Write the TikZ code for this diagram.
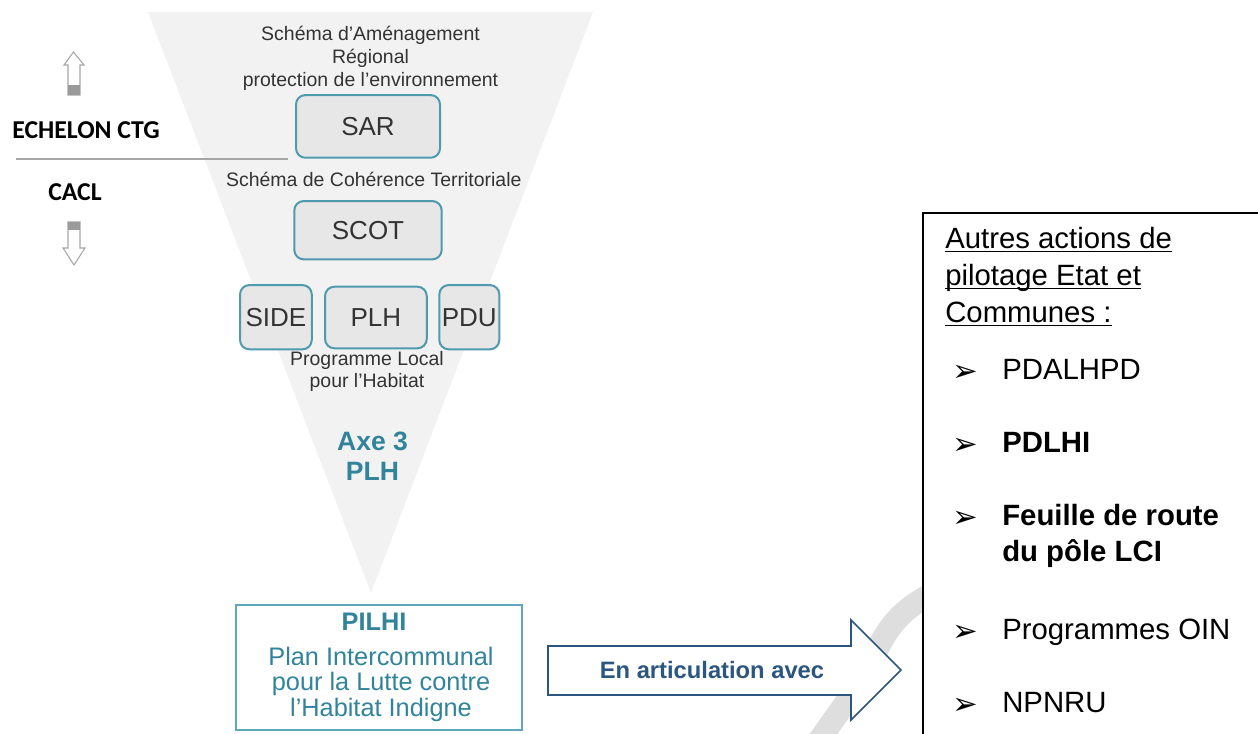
\documentclass[tikz,border=0pt]{standalone}
\usepackage{fontspec}
\setmainfont{Liberation Sans}
\newfontfamily\calibrifont{Carlito}
\newfontfamily\dejavufont{DejaVu Sans}
\definecolor{trigray}{HTML}{F2F2F2}
\definecolor{boxfill}{HTML}{E7E7E7}
\definecolor{boxteal}{HTML}{4E9AAE}
\definecolor{axeteal}{HTML}{31849B}
\definecolor{pilteal}{HTML}{5FA8BB}
\definecolor{txtdark}{HTML}{333333}
\definecolor{arrowblue}{HTML}{2A5680}
\definecolor{wmgray}{HTML}{DEDEDE}
\definecolor{sidegray}{HTML}{A6A6A6}
\definecolor{sidedark}{HTML}{9A9A9A}
\newcommand{\ulx}[1]{\setbox0\hbox{#1}\rlap{\rule[-3pt]{\wd0}{1pt}}\box0}
\begin{document}
\begin{tikzpicture}[x=0.75pt,y=-0.75pt,
  smalllbl/.style={font=\fontsize{14.6}{17.5}\selectfont, text=txtdark, inner sep=0pt, align=center, anchor=base},
  tealbox/.style={draw=boxteal, line width=1.5pt, fill=boxfill, rounded corners=7pt, inner sep=0pt,
    font=\fontsize{19.5}{22}\selectfont, text=txtdark},
  sidelbl/.style={font=\calibrifont\bfseries\fontsize{19.3}{23}\selectfont, text=black, inner sep=0pt, anchor=base},
  sidearrow/.style={draw=sidegray, line width=0.8pt, fill=white, line join=miter},
  rtext/.style={font=\fontsize{22}{27.75}\selectfont, text=black, inner sep=0pt, anchor=base west, align=left},
  rbullet/.style={font=\dejavufont\fontsize{23}{26}\selectfont, text=black, inner sep=0pt, anchor=base west},
  ]
\useasboundingbox (0,0) rectangle (1258,733);
\clip (0,0) rectangle (1258,733);

% funnel
\fill[trigray] (148,12) -- (593,12) -- (371,593) -- cycle;

% left: levels
\draw[sidearrow] (68,95) -- (68,65) -- (64,65) -- (73.5,52) -- (84,65) -- (80,65) -- (80,95) -- cycle;
\fill[sidedark] (68.4,85) rectangle (79.6,94.6);
\draw[sidearrow] (68,222) -- (80,222) -- (80,248) -- (85,248) -- (74,265) -- (63,248) -- (68,248) -- cycle;
\fill[sidedark] (68.4,222.4) rectangle (79.6,230);
\node[sidelbl] (ctg) at (86,138) {ECHELON CTG};
\node[sidelbl] (cacl) at (75,200.7) {CACL};
\coordinate (sepL) at (16,159);
\coordinate (sepR) at (288,159);
\draw[sidegray, line width=0.9pt] (sepL) -- (sepR);

% funnel labels and boxes (multi-line nodes: base = last line)
\node[smalllbl] (sarlbl) at (370.5,86.7) {Schéma d’Aménagement\\Régional\\protection de l’environnement};
\node[tealbox, minimum width=108pt, minimum height=47pt] (sar) at (368,126.4) {SAR};
\node[smalllbl] (scotlbl) at (373.8,186.7) {Schéma de Cohérence Territoriale};
\node[tealbox, minimum width=110.5pt, minimum height=43.7pt] (scot) at (368,230.2) {SCOT};
\node[tealbox, minimum width=53.8pt, minimum height=48.2pt] (side) at (275.9,317.2) {SIDE};
\node[tealbox, minimum width=76.3pt, minimum height=46.2pt] (plh) at (375.9,317.5) {PLH};
\node[tealbox, minimum width=45pt, minimum height=48.2pt] (pdu) at (469.3,317.2) {PDU};
\node[smalllbl, font=\fontsize{14.6}{16}\selectfont] (plhlbl) at (367,387.3) {Programme Local\\pour l’Habitat};
\node[font=\bfseries\fontsize{19.9}{22}\selectfont, text=axeteal, align=center, anchor=base, inner sep=0pt] (axe) at (372.5,480) {Axe 3\\PLH};

% watermark fragment
\draw[wmgray, line width=17pt] (805,760) -- (862,680) .. controls (878,655) and (882,618) .. (932,594);

% PILHI box
\node[draw=pilteal, line width=1.4pt, fill=white, minimum width=214.5pt, minimum height=93.75pt, inner sep=0pt] (pilhi) at (379,667.5) {};
\node[font=\bfseries\fontsize{19}{21}\selectfont, text=axeteal, anchor=base, inner sep=0pt] (pilhititle) at (374,630) {PILHI};
\node[font=\fontsize{19}{19.1}\selectfont, text=axeteal, align=center, anchor=base, inner sep=0pt] (pilhitext) at (381,716) {Plan Intercommunal\\pour la Lutte contre\\l’Habitat Indigne};

% block arrow
\coordinate (arL1) at (548,646);
\coordinate (arH1) at (851,646);
\coordinate (arH2) at (851,620);
\coordinate (arTip) at (901,670);
\coordinate (arH3) at (851,720);
\coordinate (arH4) at (851,695);
\coordinate (arL2) at (548,695);
\draw[arrowblue, line width=1.3pt, fill=white, line join=miter] (arL1) -- (arH1) -- (arH2) -- (arTip) -- (arH3) -- (arH4) -- (arL2) -- cycle;
\node[font=\bfseries\fontsize{17.8}{20}\selectfont, text=arrowblue, inner sep=0pt] (artic) at (712,670.5) {En articulation avec};

% right box
\draw[black, line width=1.2pt, fill=white] (923,213) rectangle (1290,780);
\node[rtext] (autres) at (945,322) {\ulx{Autres actions de}\\\ulx{pilotage Etat et}\\\ulx{Communes :}};
\node[rbullet] (b1) at (952,381) {➢};
\node[rtext] (i1) at (1002,379) {PDALHPD};
\node[rbullet] (b2) at (952,454) {➢};
\node[rtext, font=\bfseries\fontsize{22}{27}\selectfont] (i2) at (1002,452) {PDLHI};
\node[rbullet] (b3) at (952,527) {➢};
\node[rtext, font=\bfseries\fontsize{22}{27}\selectfont] (i3) at (1002,561) {Feuille de route\\du pôle LCI};
\node[rbullet] (b4) at (952,641) {➢};
\node[rtext] (i4) at (1002,639) {Programmes OIN};
\node[rbullet] (b5) at (952,714) {➢};
\node[rtext] (i5) at (1002,712) {NPNRU};
\end{tikzpicture}
\end{document}
